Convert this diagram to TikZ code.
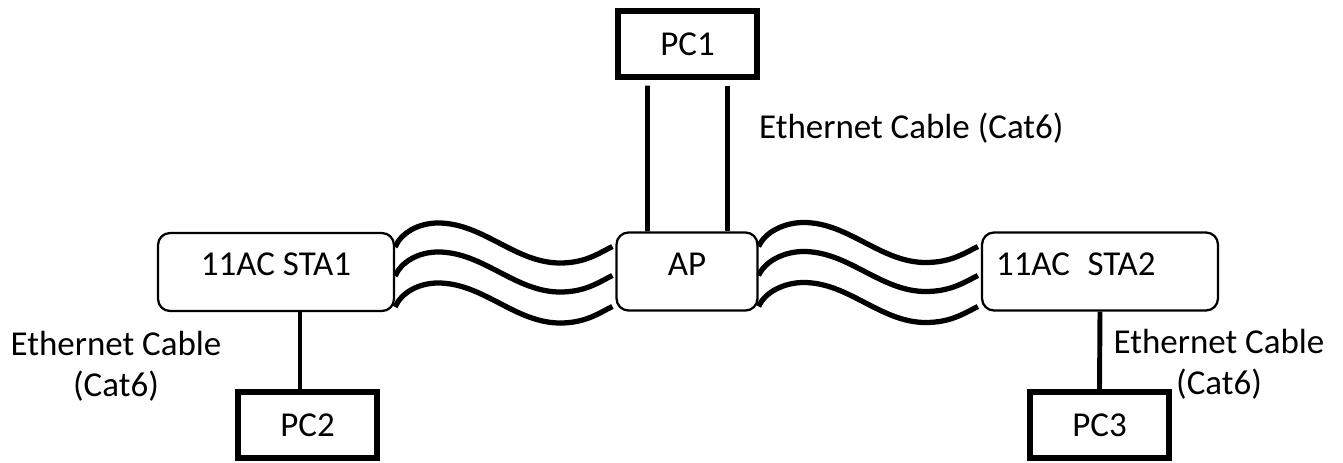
\documentclass[tikz,border=0pt]{standalone}
\usepackage{fontspec}
\setmainfont{Carlito}
\usetikzlibrary{calc,positioning}

\begin{document}
\begin{tikzpicture}[x=0.02cm,y=-0.02cm,
    every node/.style={font=\fontsize{19.9pt}{23.5pt}\selectfont},
    pcbox/.style={draw,line width=3pt,minimum width=2.78cm,minimum height=1.32cm},
    devbox/.style={draw,line width=1.3pt,rounded corners=0.24cm,minimum height=1.56cm,text depth=0.3cm},
    cable/.style={line width=2.8pt},
    wave/.style={line width=3pt}]

    \useasboundingbox (0,0) rectangle (1343,463);

    \node[pcbox] (pc1) at (687.5,44) {PC1};
    \node[pcbox] (pc2) at (307.5,425) {PC2};
    \node[pcbox] (pc3) at (1099.5,425) {PC3};

    \node[devbox,minimum width=2.82cm] (ap) at (687,271.5) {AP};
    \node[devbox,minimum width=4.72cm] (sta1) at (276,272) {11AC STA1};
    \node[devbox,text width=4.16cm,inner xsep=0.28cm,align=left] (sta2) at (1100,271.5) {11AC~\,STA2};

    \node (lbl1) at (753,138) [anchor=base west] {Ethernet Cable (Cat6)};
    \node (lbl2) at (116,366) [align=center] {Ethernet Cable\\(Cat6)};
    \node (lbl3) at (1219,364) [align=center] {Ethernet Cable\\(Cat6)};

    % wired links
    \draw[cable] ($(pc1.south)+(-40,6)$) -- ($(ap.north)+(-39.5,0)$);
    \draw[cable] ($(pc1.south)+(40,6)$) -- ($(ap.north)+(40.5,0)$);
    \coordinate (c2) at ($(pc2.north)+(-7.5,0)$);
    \draw[cable] (c2) -- (c2 |- sta1.south);
    \draw[cable] (sta2.south) -- (pc3.north);

    % wireless links
    \foreach \dy in {-25,4,35} {
        \draw[wave] ($(sta1.east)+(0,\dy)$) .. controls +(6,-14) and +(-20,0) .. ++(43,-24)
            .. controls +(45,0) and +(-45,0) .. ++(122,40)
            .. controls +(25,0) and +(-14,7) .. ($(ap.west)+(-3,\dy)$);
        \draw[wave] ($(ap.east)+(0,\dy)$) .. controls +(6,-14) and +(-20,0) .. ++(45,-24)
            .. controls +(45,0) and +(-45,0) .. ++(122,40)
            .. controls +(25,0) and +(-14,7) .. ($(sta2.west)+(-3,\dy)$);
    }
\end{tikzpicture}
\end{document}
